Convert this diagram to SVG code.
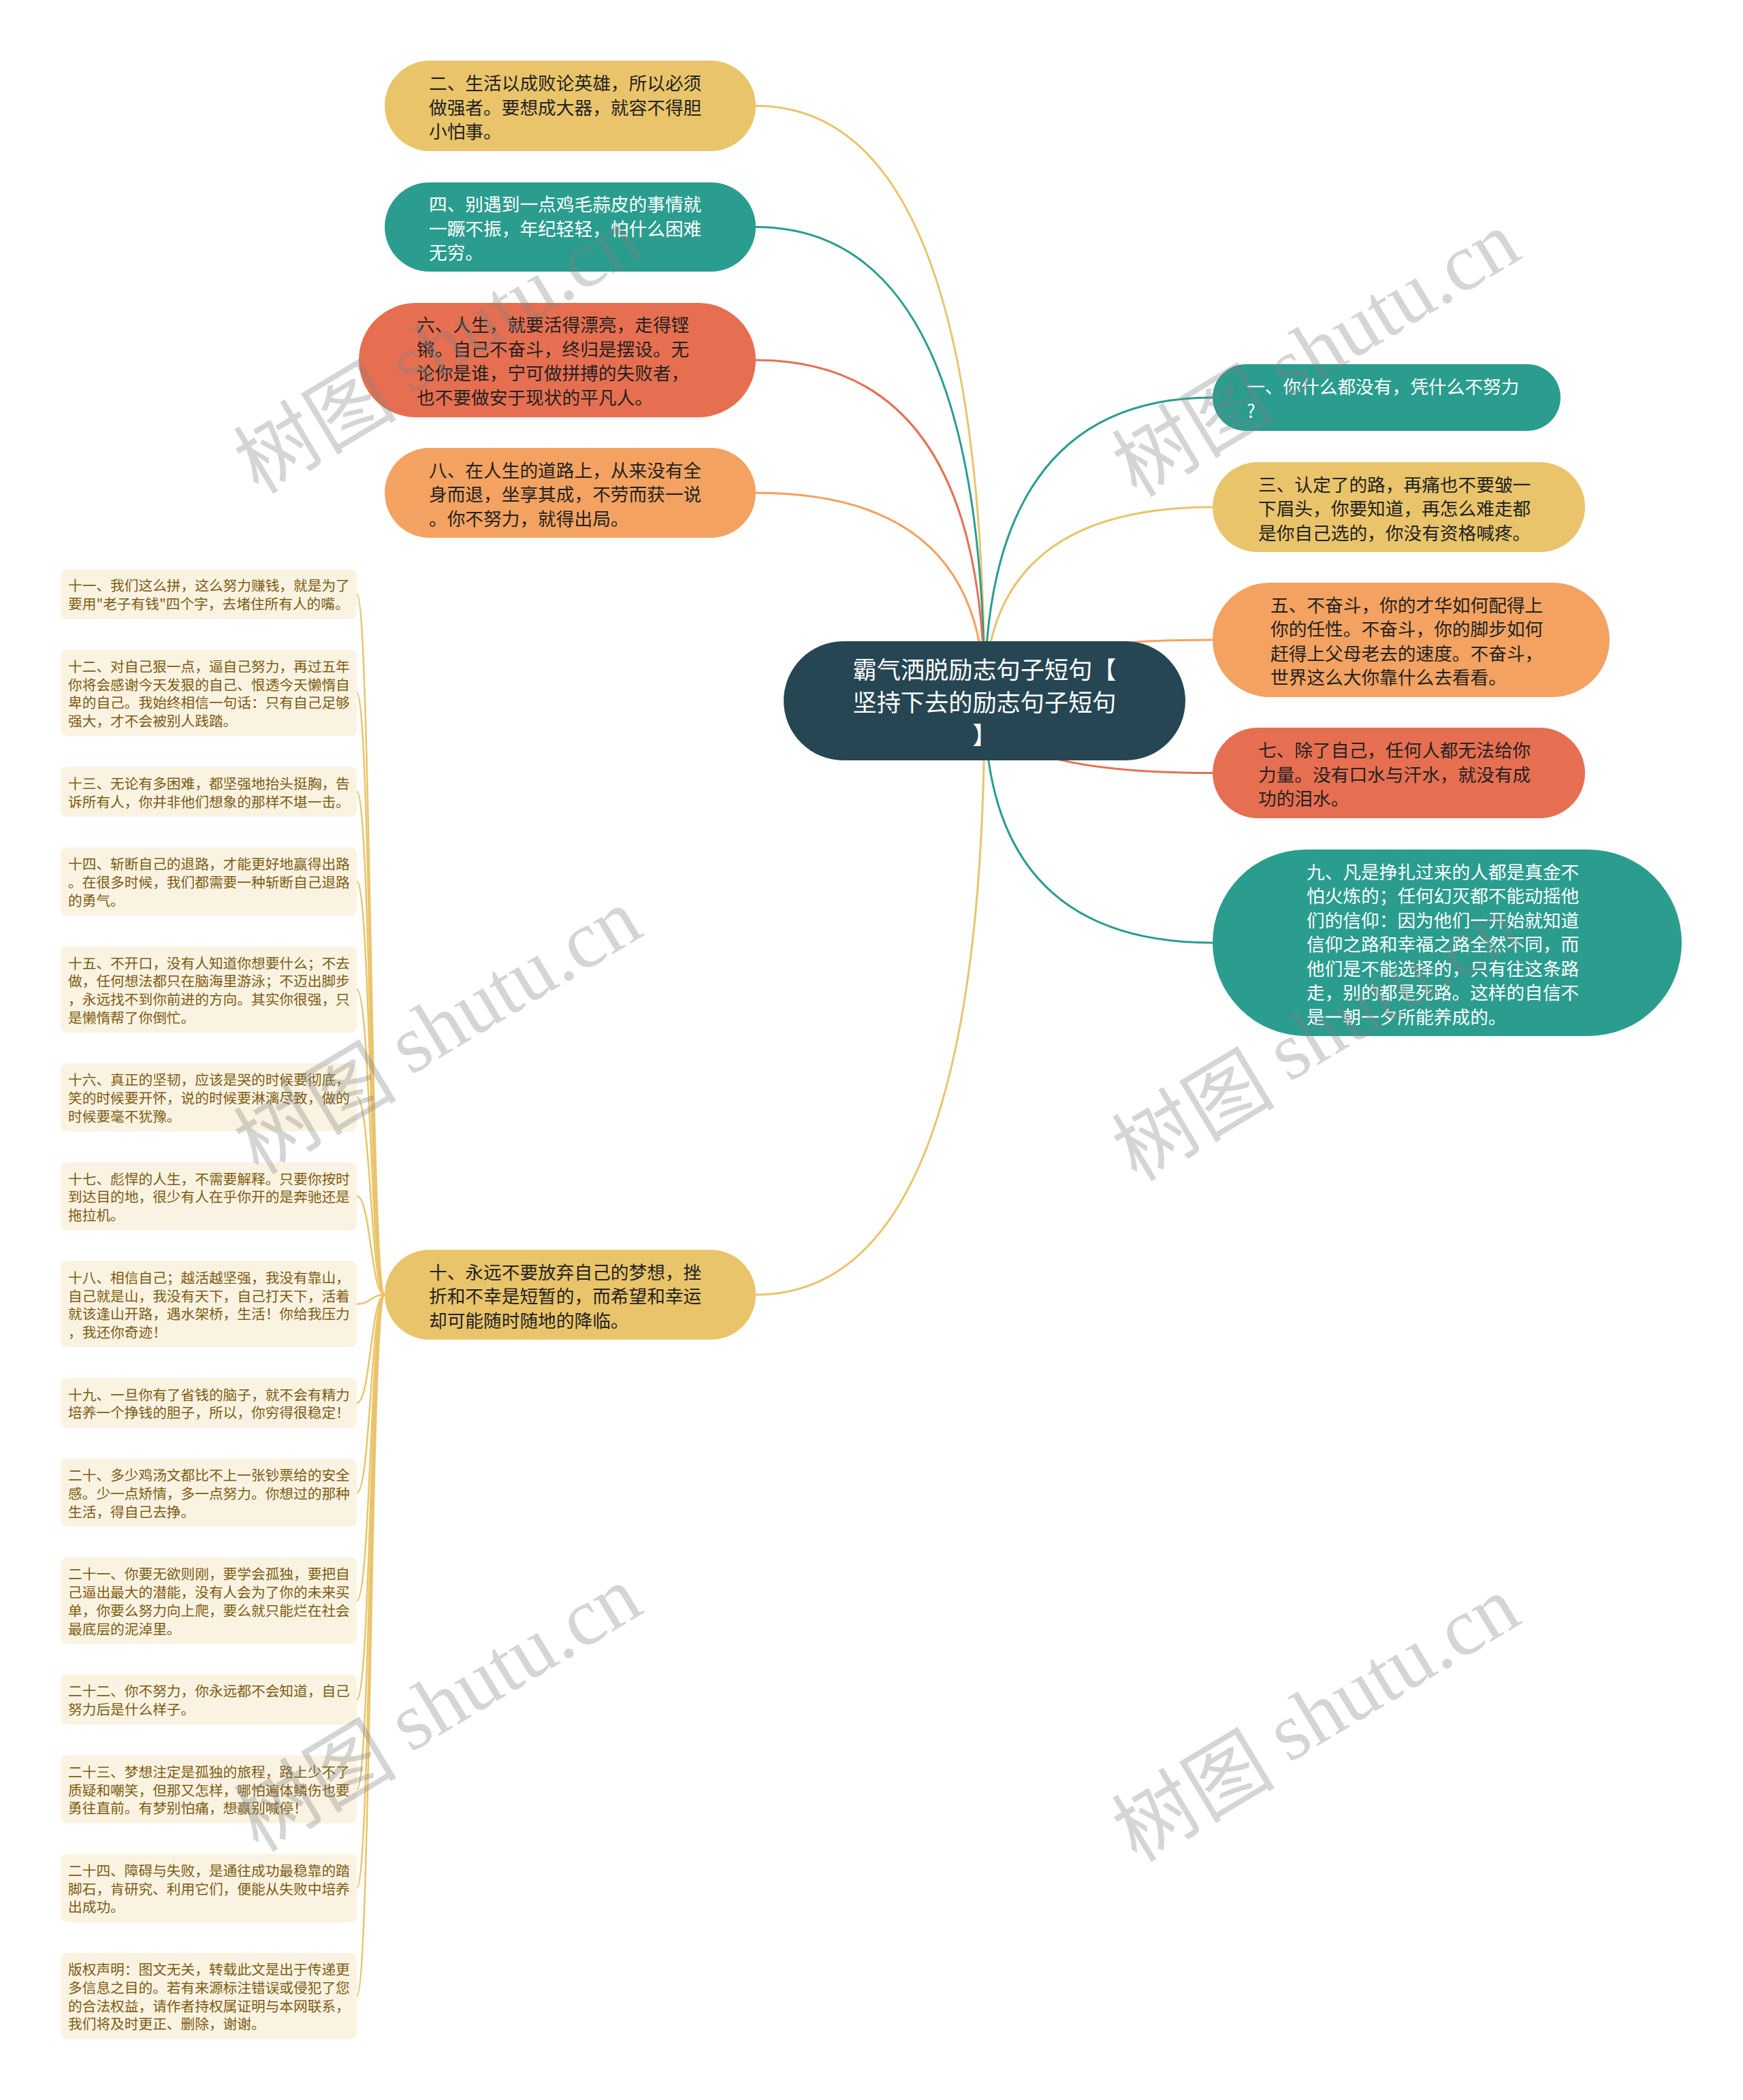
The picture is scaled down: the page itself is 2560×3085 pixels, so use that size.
<svg xmlns="http://www.w3.org/2000/svg" width="2560" height="3085" viewBox="0 0 2560 3085">
<style>
text{font-family:"Noto Sans CJK SC","Noto Sans",sans-serif;dominant-baseline:central}
.t{font-size:26.7px}
.dk{fill:#222}
.wt{fill:#fff}
.y{fill:#E9C46A}.g{fill:#2A9D8F}.r{fill:#E76F51}.o{fill:#F4A261}
.lf rect{fill:#fbf3e2}
.lf text{font-size:20.7px;fill:#7d5c12}
#connectors path{fill:none;stroke-width:3}
#leaf-connectors path{fill:none;stroke:#E9C46A;stroke-width:2.5}
.wm{font-size:120px;fill:#808080;fill-opacity:.33;text-anchor:middle}
.wm tspan.l{font-family:"Liberation Serif",serif}
</style>
<rect width="2560" height="3085" fill="#fff"/>
<g id="connectors">
<path d="M1446,1029 Q1446,155.5 1110,155.5" stroke="#E9C46A"/>
<path d="M1446,1029 Q1446,333.5 1110,333.5" stroke="#2A9D8F"/>
<path d="M1446,1029 Q1446,529 1110,529" stroke="#E76F51"/>
<path d="M1446,1029 Q1446,724 1110,724" stroke="#F4A261"/>
<path d="M1446,1029 Q1446,1902 1110,1902" stroke="#E9C46A"/>
<path d="M1446,1029 Q1446,584 1781,584" stroke="#2A9D8F"/>
<path d="M1446,1029 Q1446,745 1781,745" stroke="#E9C46A"/>
<path d="M1446,1029 Q1446,940 1781,940" stroke="#F4A261"/>
<path d="M1446,1029 Q1446,1135.5 1781,1135.5" stroke="#E76F51"/>
<path d="M1446,1029 Q1446,1385 1781,1385" stroke="#2A9D8F"/>
</g>
<g id="leaf-connectors">
<path d="M565,1902 C544.5,1902 544.5,872.7 524,872.7"/>
<path d="M565,1902 C544.5,1902 544.5,1017.9 524,1017.9"/>
<path d="M565,1902 C544.5,1902 544.5,1163.1 524,1163.1"/>
<path d="M565,1902 C544.5,1902 544.5,1295 524,1295"/>
<path d="M565,1902 C544.5,1902 544.5,1453.5 524,1453.5"/>
<path d="M565,1902 C544.5,1902 544.5,1612.1 524,1612.1"/>
<path d="M565,1902 C544.5,1902 544.5,1757.3 524,1757.3"/>
<path d="M565,1902 C544.5,1902 544.5,1915.8 524,1915.8"/>
<path d="M565,1902 C544.5,1902 544.5,2061 524,2061"/>
<path d="M565,1902 C544.5,1902 544.5,2192.9 524,2192.9"/>
<path d="M565,1902 C544.5,1902 544.5,2351.4 524,2351.4"/>
<path d="M565,1902 C544.5,1902 544.5,2496.6 524,2496.6"/>
<path d="M565,1902 C544.5,1902 544.5,2628.5 524,2628.5"/>
<path d="M565,1902 C544.5,1902 544.5,2773.7 524,2773.7"/>
<path d="M565,1902 C544.5,1902 544.5,2932.2 524,2932.2"/>
</g>

<g id="center">
<rect x="1151" y="942" width="590" height="175" rx="87.5" fill="#264653"/>
<text class="wt" style="font-size:35.2px" text-anchor="middle"><tspan x="1446" y="981">霸气洒脱励志句子短句【</tspan><tspan x="1446" y="1029">坚持下去的励志句子短句</tspan><tspan x="1446" y="1077">】</tspan></text>
</g>

<g id="n2">
<rect class="y" x="565" y="89" width="545" height="133" rx="66.5"/>
<text class="t dk"><tspan x="630" y="120">二、生活以成败论英雄，所以必须</tspan><tspan x="630" y="155.5">做强者。要想成大器，就容不得胆</tspan><tspan x="630" y="191">小怕事。</tspan></text>
</g>
<g id="n4">
<rect class="g" x="565" y="268" width="545" height="131" rx="65.5"/>
<text class="t wt"><tspan x="630" y="298">四、别遇到一点鸡毛蒜皮的事情就</tspan><tspan x="630" y="333.5">一蹶不振，年纪轻轻，怕什么困难</tspan><tspan x="630" y="369">无穷。</tspan></text>
</g>
<g id="n6">
<rect class="r" x="527" y="445" width="583" height="168" rx="84"/>
<text class="t dk"><tspan x="612" y="475">六、人生，就要活得漂亮，走得铿</tspan><tspan x="612" y="510.5">锵。自己不奋斗，终归是摆设。无</tspan><tspan x="612" y="546">论你是谁，宁可做拼搏的失败者，</tspan><tspan x="612" y="581.5">也不要做安于现状的平凡人。</tspan></text>
</g>
<g id="n8">
<rect class="o" x="565" y="658" width="545" height="132" rx="66"/>
<text class="t dk"><tspan x="630" y="688.5">八、在人生的道路上，从来没有全</tspan><tspan x="630" y="724">身而退，坐享其成，不劳而获一说</tspan><tspan x="630" y="759.5">。你不努力，就得出局。</tspan></text>
</g>
<g id="n10">
<rect class="y" x="565" y="1836" width="545" height="132" rx="66"/>
<text class="t dk"><tspan x="630" y="1866.5">十、永远不要放弃自己的梦想，挫</tspan><tspan x="630" y="1902">折和不幸是短暂的，而希望和幸运</tspan><tspan x="630" y="1937.5">却可能随时随地的降临。</tspan></text>
</g>

<g id="n1">
<rect class="g" x="1781" y="535" width="511" height="98" rx="49"/>
<text class="t wt"><tspan x="1831" y="566">一、你什么都没有，凭什么不努力</tspan><tspan x="1831" y="601.5">?</tspan></text>
</g>
<g id="n3">
<rect class="y" x="1781" y="679" width="547" height="132" rx="66"/>
<text class="t dk"><tspan x="1848" y="709.5">三、认定了的路，再痛也不要皱一</tspan><tspan x="1848" y="745">下眉头，你要知道，再怎么难走都</tspan><tspan x="1848" y="780.5">是你自己选的，你没有资格喊疼。</tspan></text>
</g>
<g id="n5">
<rect class="o" x="1781" y="856" width="583" height="168" rx="84"/>
<text class="t dk"><tspan x="1866" y="886.5">五、不奋斗，你的才华如何配得上</tspan><tspan x="1866" y="922">你的任性。不奋斗，你的脚步如何</tspan><tspan x="1866" y="957.5">赶得上父母老去的速度。不奋斗，</tspan><tspan x="1866" y="993">世界这么大你靠什么去看看。</tspan></text>
</g>
<g id="n7">
<rect class="r" x="1781" y="1069" width="547" height="133" rx="66.5"/>
<text class="t dk"><tspan x="1848" y="1100">七、除了自己，任何人都无法给你</tspan><tspan x="1848" y="1135.5">力量。没有口水与汗水，就没有成</tspan><tspan x="1848" y="1171">功的泪水。</tspan></text>
</g>
<g id="n9">
<rect class="g" x="1781" y="1248" width="689" height="274" rx="137"/>
<text class="t wt"><tspan x="1919" y="1278.5">九、凡是挣扎过来的人都是真金不</tspan><tspan x="1919" y="1314">怕火炼的；任何幻灭都不能动摇他</tspan><tspan x="1919" y="1349.5">们的信仰：因为他们一开始就知道</tspan><tspan x="1919" y="1385">信仰之路和幸福之路全然不同，而</tspan><tspan x="1919" y="1420.5">他们是不能选择的，只有往这条路</tspan><tspan x="1919" y="1456">走，别的都是死路。这样的自信不</tspan><tspan x="1919" y="1491.5">是一朝一夕所能养成的。</tspan></text>
</g>

<g id="l11" class="lf">
<rect x="89" y="836" width="435" height="73.4" rx="9"/>
<text><tspan x="100" y="859.4">十一、我们这么拼，这么努力赚钱，就是为了</tspan><tspan x="100" y="886.1">要用"老子有钱"四个字，去堵住所有人的嘴。</tspan></text>
</g>
<g id="l12" class="lf">
<rect x="89" y="954.5" width="435" height="126.8" rx="9"/>
<text><tspan x="100" y="977.9">十二、对自己狠一点，逼自己努力，再过五年</tspan><tspan x="100" y="1004.6">你将会感谢今天发狠的自己、恨透今天懒惰自</tspan><tspan x="100" y="1031.3">卑的自己。我始终相信一句话：只有自己足够</tspan><tspan x="100" y="1058">强大，才不会被别人践踏。</tspan></text>
</g>
<g id="l13" class="lf">
<rect x="89" y="1126.4" width="435" height="73.4" rx="9"/>
<text><tspan x="100" y="1149.8">十三、无论有多困难，都坚强地抬头挺胸，告</tspan><tspan x="100" y="1176.5">诉所有人，你并非他们想象的那样不堪一击。</tspan></text>
</g>
<g id="l14" class="lf">
<rect x="89" y="1244.9" width="435" height="100.1" rx="9"/>
<text><tspan x="100" y="1268.3">十四、斩断自己的退路，才能更好地赢得出路</tspan><tspan x="100" y="1295">。在很多时候，我们都需要一种斩断自己退路</tspan><tspan x="100" y="1321.7">的勇气。</tspan></text>
</g>
<g id="l15" class="lf">
<rect x="89" y="1390.1" width="435" height="126.8" rx="9"/>
<text><tspan x="100" y="1413.5">十五、不开口，没有人知道你想要什么；不去</tspan><tspan x="100" y="1440.2">做，任何想法都只在脑海里游泳；不迈出脚步</tspan><tspan x="100" y="1466.9">，永远找不到你前进的方向。其实你很强，只</tspan><tspan x="100" y="1493.6">是懒惰帮了你倒忙。</tspan></text>
</g>
<g id="l16" class="lf">
<rect x="89" y="1562" width="435" height="100.1" rx="9"/>
<text><tspan x="100" y="1585.4">十六、真正的坚韧，应该是哭的时候要彻底，</tspan><tspan x="100" y="1612.1">笑的时候要开怀，说的时候要淋漓尽致，做的</tspan><tspan x="100" y="1638.8">时候要毫不犹豫。</tspan></text>
</g>
<g id="l17" class="lf">
<rect x="89" y="1707.2" width="435" height="100.1" rx="9"/>
<text><tspan x="100" y="1730.6">十七、彪悍的人生，不需要解释。只要你按时</tspan><tspan x="100" y="1757.3">到达目的地，很少有人在乎你开的是奔驰还是</tspan><tspan x="100" y="1784">拖拉机。</tspan></text>
</g>
<g id="l18" class="lf">
<rect x="89" y="1852.4" width="435" height="126.8" rx="9"/>
<text><tspan x="100" y="1875.8">十八、相信自己；越活越坚强，我没有靠山，</tspan><tspan x="100" y="1902.5">自己就是山，我没有天下，自己打天下，活着</tspan><tspan x="100" y="1929.2">就该逢山开路，遇水架桥，生活！你给我压力</tspan><tspan x="100" y="1955.9">，我还你奇迹！</tspan></text>
</g>
<g id="l19" class="lf">
<rect x="89" y="2024.3" width="435" height="73.4" rx="9"/>
<text><tspan x="100" y="2047.7">十九、一旦你有了省钱的脑子，就不会有精力</tspan><tspan x="100" y="2074.4">培养一个挣钱的胆子，所以，你穷得很稳定！</tspan></text>
</g>
<g id="l20" class="lf">
<rect x="89" y="2142.8" width="435" height="100.1" rx="9"/>
<text><tspan x="100" y="2166.2">二十、多少鸡汤文都比不上一张钞票给的安全</tspan><tspan x="100" y="2192.9">感。少一点矫情，多一点努力。你想过的那种</tspan><tspan x="100" y="2219.6">生活，得自己去挣。</tspan></text>
</g>
<g id="l21" class="lf">
<rect x="89" y="2288" width="435" height="126.8" rx="9"/>
<text><tspan x="100" y="2311.4">二十一、你要无欲则刚，要学会孤独，要把自</tspan><tspan x="100" y="2338.1">己逼出最大的潜能，没有人会为了你的未来买</tspan><tspan x="100" y="2364.8">单，你要么努力向上爬，要么就只能烂在社会</tspan><tspan x="100" y="2391.5">最底层的泥淖里。</tspan></text>
</g>
<g id="l22" class="lf">
<rect x="89" y="2459.9" width="435" height="73.4" rx="9"/>
<text><tspan x="100" y="2483.3">二十二、你不努力，你永远都不会知道，自己</tspan><tspan x="100" y="2510">努力后是什么样子。</tspan></text>
</g>
<g id="l23" class="lf">
<rect x="89" y="2578.4" width="435" height="100.1" rx="9"/>
<text><tspan x="100" y="2601.8">二十三、梦想注定是孤独的旅程，路上少不了</tspan><tspan x="100" y="2628.5">质疑和嘲笑，但那又怎样，哪怕遍体鳞伤也要</tspan><tspan x="100" y="2655.2">勇往直前。有梦别怕痛，想赢别喊停！</tspan></text>
</g>
<g id="l24" class="lf">
<rect x="89" y="2723.6" width="435" height="100.1" rx="9"/>
<text><tspan x="100" y="2747">二十四、障碍与失败，是通往成功最稳靠的踏</tspan><tspan x="100" y="2773.7">脚石，肯研究、利用它们，便能从失败中培养</tspan><tspan x="100" y="2800.4">出成功。</tspan></text>
</g>
<g id="copyright" class="lf">
<rect x="89" y="2868.8" width="435" height="126.8" rx="9"/>
<text><tspan x="100" y="2892.2">版权声明：图文无关，转载此文是出于传递更</tspan><tspan x="100" y="2918.9">多信息之目的。若有来源标注错误或侵犯了您</tspan><tspan x="100" y="2945.6">的合法权益，请作者持权属证明与本网联系，</tspan><tspan x="100" y="2972.3">我们将及时更正、删除，谢谢。</tspan></text>
</g>

<g id="watermarks">
<text class="wm" x="640" y="510" transform="rotate(-31 640 510)">树图 <tspan class="l">shutu.cn</tspan></text>
<text class="wm" x="1930" y="515" transform="rotate(-31 1930 515)">树图 <tspan class="l">shutu.cn</tspan></text>
<text class="wm" x="640" y="1510" transform="rotate(-31 640 1510)">树图 <tspan class="l">shutu.cn</tspan></text>
<text class="wm" x="1930" y="1520" transform="rotate(-31 1930 1520)">树图 <tspan class="l">shutu.cn</tspan></text>
<text class="wm" x="640" y="2505" transform="rotate(-31 640 2505)">树图 <tspan class="l">shutu.cn</tspan></text>
<text class="wm" x="1930" y="2520" transform="rotate(-31 1930 2520)">树图 <tspan class="l">shutu.cn</tspan></text>
</g>
</svg>
